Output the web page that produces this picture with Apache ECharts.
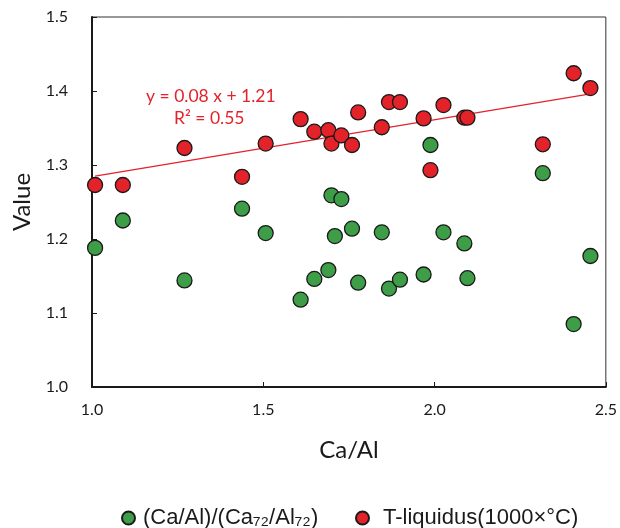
<!DOCTYPE html>
<html>
<head>
<meta charset="utf-8">
<script src="https://cdn.jsdelivr.net/npm/echarts@6/dist/echarts.min.js"></script>
<style>
  html, body { margin: 0; padding: 0; background: #fff; }
  #main { width: 620px; height: 528px; }
</style>
</head>
<body>
<div id="main"></div>
<script>
// 绿色点 (Ca/Al)/(Ca72/Al72)
var greenX = [1.009, 1.09, 1.27, 1.438, 1.507, 1.609, 1.649, 1.69, 1.699, 1.709, 1.728, 1.759, 1.777,
  1.846, 1.867, 1.899, 1.968, 1.988, 2.026, 2.087, 2.096, 2.316, 2.406, 2.455];
var greenY = [1.188, 1.225, 1.144, 1.241, 1.208, 1.118, 1.146, 1.158, 1.259, 1.204, 1.254, 1.214, 1.141,
  1.209, 1.133, 1.145, 1.152, 1.327, 1.209, 1.194, 1.147, 1.289, 1.085, 1.177];
// 红色点 T-liquidus
var redX = [1.009, 1.09, 1.27, 1.438, 1.507, 1.609, 1.649, 1.69, 1.699, 1.728, 1.759, 1.777,
  1.846, 1.867, 1.899, 1.968, 1.988, 2.026, 2.087, 2.096, 2.316, 2.406, 2.455];
var redY = [1.273, 1.273, 1.323, 1.284, 1.329, 1.362, 1.345, 1.347, 1.329, 1.340, 1.327, 1.371,
  1.351, 1.385, 1.385, 1.363, 1.293, 1.381, 1.364, 1.364, 1.328, 1.424, 1.404];
// 趋势线端点
var trendX = [1.009, 2.455];
var trendY = [1.285, 1.396];
var yTicks = ['1.0', '1.1', '1.2', '1.3', '1.4', '1.5'];

var green = '#3d9e47';
var red = '#e4222a';
var ink = '#1a1a1a';

function pairs(xs, ys) {
  return xs.map(function (x, i) { return [x, ys[i]]; });
}

var legendText = { fontFamily: 'Liberation Sans', fontSize: 22, color: ink };

var chart = echarts.init(document.getElementById('main'));
var option = {
  animation: false,
  grid: {
    left: 92, top: 17, right: 11, bottom: 141,
    show: true, borderColor: '#333', borderWidth: 1
  },
  legend: [
    {
      top: 502, left: 116,
      itemWidth: 13, itemHeight: 13,
      textStyle: Object.assign({ padding: [0, 0, 0, 3] }, legendText),
      data: ['(Ca/Al)/(Ca₇₂/Al₇₂)']
    },
    {
      top: 502, left: 350,
      itemWidth: 13, itemHeight: 13,
      textStyle: Object.assign({ padding: [0, 0, 0, 9] }, legendText),
      data: ['T-liquidus(1000×°C)']
    }
  ],
  xAxis: {
    type: 'value', min: 1.0, max: 2.5, interval: 0.5,
    name: 'Ca/Al', nameLocation: 'middle', nameGap: 51,
    nameTextStyle: { fontFamily: 'Lato', fontSize: 24, color: ink },
    axisLine: { show: true, lineStyle: { color: ink, width: 2 } },
    axisTick: { show: true, inside: true, length: 5, lineStyle: { color: ink } },
    axisLabel: { margin: 15, fontFamily: 'Lato', fontSize: 16, color: ink,
      formatter: function (v) { return v.toFixed(1); } },
    splitLine: { show: false }
  },
  yAxis: {
    type: 'value', min: 1.0, max: 1.5, interval: 0.1,
    name: 'Value', nameLocation: 'middle', nameGap: 56,
    nameTextStyle: { fontFamily: 'Lato', fontSize: 24, color: ink },
    axisLine: { show: true, lineStyle: { color: ink, width: 2 } },
    axisTick: { show: true, inside: true, length: 5, lineStyle: { color: ink } },
    axisLabel: { margin: 24, fontFamily: 'Lato', fontSize: 16, color: ink,
      formatter: function (v) { return yTicks[Math.round((v - 1) * 10)]; } },
    splitLine: { show: false }
  },
  series: [
    {
      name: 'T-liquidus trend',
      type: 'line',
      data: pairs(trendX, trendY),
      symbol: 'none',
      lineStyle: { color: red, width: 1.3 },
      silent: true,
      z: 1
    },
    {
      name: '(Ca/Al)/(Ca₇₂/Al₇₂)',
      type: 'scatter',
      data: pairs(greenX, greenY),
      symbolSize: 15,
      itemStyle: { color: green, borderColor: ink, borderWidth: 1.3, opacity: 1 },
      z: 3
    },
    {
      name: 'T-liquidus(1000×°C)',
      type: 'scatter',
      data: pairs(redX, redY),
      symbolSize: 15,
      itemStyle: { color: red, borderColor: ink, borderWidth: 1.3, opacity: 1 },
      z: 3
    }
  ],
  graphic: [
    {
      type: 'text', left: 146, top: 87,
      style: { text: 'y = 0.08 x + 1.21', fill: red, font: '17.5px Lato' }
    },
    {
      type: 'text', left: 174, top: 109,
      style: { text: 'R² = 0.55', fill: red, font: '17.5px Lato' }
    }
  ]
};
chart.setOption(option);
</script>
</body>
</html>
